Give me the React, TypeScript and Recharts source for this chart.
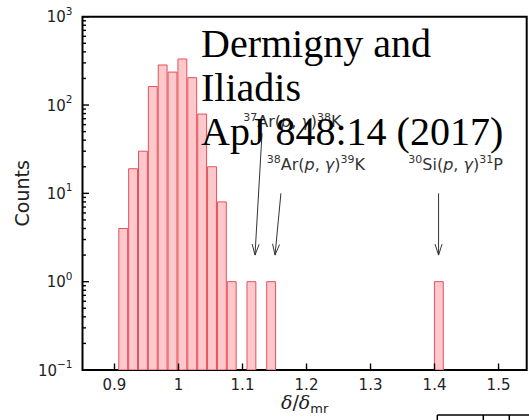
import React from 'react';
import { ComposedChart, Bar, XAxis, YAxis, ReferenceLine, ReferenceDot, ReferenceArea } from 'recharts';

// ---------- data ----------
const binCenters = [0.9144, 0.9298, 0.9452, 0.9606, 0.976, 0.9914, 1.0068, 1.0222, 1.0377, 1.0531, 1.0685, 1.0839, 1.1147, 1.1455, 1.4075];
const counts = [4, 19, 30, 162, 284, 236, 332, 204, 79, 20, 8, 1, 1, 1, 1];
const binWidth = 0.01541;

const xDomain = [0.85, 1.544];
const xTicks = [0.9, 1.0, 1.1, 1.2, 1.3, 1.4, 1.5];
const xTickLabels = ['0.9', '1', '1.1', '1.2', '1.3', '1.4', '1.5'];

const yDomain = [0.1, 1000];
const yMajorTicks = [0.1, 1, 10, 100, 1000];
const yTickExponents = ['\u22121', '0', '1', '2', '3'];

// reaction annotations
const labelTargets = ['37', '38', '30'];
const labelElements = ['Ar', 'Ar', 'Si'];
const labelProducts = ['38', '39', '31'];
const labelProductElements = ['K', 'K', 'P'];
const labelX = [1.1012, 1.1378, 1.359];
const labelY = [56, 18.4, 18.4];
const arrowTailX = [1.1305, 1.16, 1.4063];
const arrowTailY = [48, 10, 10];
const arrowTipX = [1.1195, 1.1508, 1.4063];
const arrowTipY = [2, 2, 2];

const titleLines = ['Dermigny and', 'Iliadis', 'ApJ 848:14 (2017)'];
const xAxisTitle = { sym: '\u03b4', sub: 'mr' };
const yAxisTitle = 'Counts';

// ---------- layout ----------
const W = 529;
const H = 420;
const PLOT_LEFT = 82.5;
const PLOT_TOP = 16.7;
const PLOT_RIGHT = 526.7;
const PLOT_BOTTOM = 370;
const PLOT_W = PLOT_RIGHT - PLOT_LEFT;
const barSize = (PLOT_W * binWidth) / (xDomain[1] - xDomain[0]);

const data = binCenters.map((x, i) => ({ x, count: counts[i] }));

const yAllTicks: number[] = [];
yMajorTicks.forEach((d, i) => {
  if (i < yMajorTicks.length - 1) {
    for (let k = 1; k < 10; k++) yAllTicks.push(d * k);
  } else {
    yAllTicks.push(d);
  }
});

const isMajor = (v: number) => {
  const l = Math.log10(v);
  return Math.abs(l - Math.round(l)) < 1e-6;
};

const SANS = 'DejaVu Sans';
const TXT = '#222';
const AX = '#000';
const TICK_W = 1.4;

const renderLeftTick = (props: any) => {
  const { x, y, payload } = props;
  const v = payload.value;
  const major = isMajor(v);
  const idx = yMajorTicks.findIndex((t) => Math.abs(t - v) / t < 1e-6);
  return (
    <g>
      <path d={`M${x},${y}H${x + (major ? 6.5 : 3.5)}`} stroke={AX} strokeWidth={TICK_W} fill="none" />
      {idx >= 0 && (
        <text x={x - 10} y={y + 5.5} textAnchor="end" fontFamily={SANS} fontSize={15} fill={TXT}>
          10
          <tspan fontSize={10.5} dy={-7.5}>
            {yTickExponents[idx]}
          </tspan>
        </text>
      )}
    </g>
  );
};

const renderRightTick = (props: any) => {
  const { x, y, payload } = props;
  const major = isMajor(payload.value);
  return <path d={`M${x},${y}H${x - (major ? 6.5 : 3.5)}`} stroke={AX} strokeWidth={TICK_W} fill="none" />;
};

const renderBottomTick = (props: any) => {
  const { x, y, payload } = props;
  const idx = xTicks.findIndex((t) => Math.abs(t - payload.value) < 1e-9);
  return (
    <g>
      <path d={`M${x},${y}V${y - 6.5}`} stroke={AX} strokeWidth={TICK_W} fill="none" />
      <text x={x} y={y + 19.5} textAnchor="middle" fontFamily={SANS} fontSize={15} fill={TXT}>
        {xTickLabels[idx]}
      </text>
    </g>
  );
};

const renderTopTick = (props: any) => {
  const { x, y } = props;
  return <path d={`M${x},${y}V${y + 6.5}`} stroke={AX} strokeWidth={TICK_W} fill="none" />;
};

const Arrow = (props: any) => {
  const { x1, y1, x2, y2 } = props;
  const ang = Math.atan2(y2 - y1, x2 - x1);
  const L = 11.5;
  const a = 0.31;
  const p1 = [x2 - L * Math.cos(ang - a), y2 - L * Math.sin(ang - a)];
  const p2 = [x2 - L * Math.cos(ang + a), y2 - L * Math.sin(ang + a)];
  return (
    <g>
      <line x1={x1} y1={y1} x2={x2} y2={y2} stroke="#333" strokeWidth={1} />
      <polyline points={`${p1[0]},${p1[1]} ${x2},${y2} ${p2[0]},${p2[1]}`} fill="none" stroke="#333" strokeWidth={1} />
    </g>
  );
};

const makeLabel = (i: number) => (props: any) => {
  const { cx, cy } = props;
  return (
    <text x={cx} y={cy} fontFamily={SANS} fontSize={16} fill="#333">
      <tspan fontSize={11} dy={-6.5}>
        {labelTargets[i]}
      </tspan>
      <tspan dy={6.5}>{labelElements[i]}(</tspan>
      <tspan fontStyle="italic">p</tspan>
      <tspan>, </tspan>
      <tspan fontStyle="italic">{'\u03b3'}</tspan>
      <tspan>)</tspan>
      <tspan fontSize={11} dy={-6.5}>
        {labelProducts[i]}
      </tspan>
      <tspan dy={6.5}>{labelProductElements[i]}</tspan>
    </text>
  );
};

export default function App() {
  return (
    <div style={{ position: 'absolute', left: 0, top: 0, width: W, height: H, overflow: 'hidden', background: '#fff' }}>
      <ComposedChart
        width={W}
        height={H}
        data={data}
        margin={{ top: PLOT_TOP, right: W - PLOT_RIGHT, bottom: 0, left: 0 }}
        style={{ fontFamily: SANS }}
      >
        <XAxis
          type="number"
          dataKey="x"
          domain={xDomain}
          allowDataOverflow
          ticks={xTicks}
          interval={0}
          height={H - PLOT_BOTTOM}
          tickSize={0}
          tickMargin={0}
          tickLine={false}
          tick={renderBottomTick}
          axisLine={false}
        />
        <XAxis
          xAxisId="top"
          orientation="top"
          type="number"
          dataKey="x"
          domain={xDomain}
          allowDataOverflow
          ticks={xTicks}
          interval={0}
          height={0}
          tickSize={0}
          tickMargin={0}
          tickLine={false}
          tick={renderTopTick}
          axisLine={false}
        />
        <YAxis
          scale="log"
          type="number"
          domain={yDomain}
          allowDataOverflow
          ticks={yAllTicks}
          interval={0}
          width={PLOT_LEFT}
          tickSize={0}
          tickMargin={0}
          tickLine={false}
          tick={renderLeftTick}
          axisLine={false}
        />
        <YAxis
          yAxisId="right"
          orientation="right"
          scale="log"
          type="number"
          domain={yDomain}
          allowDataOverflow
          ticks={yAllTicks}
          interval={0}
          width={0}
          tickSize={0}
          tickMargin={0}
          tickLine={false}
          tick={renderRightTick}
          axisLine={false}
        />
        <Bar
          dataKey="count"
          barSize={barSize}
          fill="#ffc9cb"
          stroke="#e4505b"
          strokeWidth={1}
          isAnimationActive={false}
        />
        <ReferenceArea
          x1={xDomain[0]}
          x2={xDomain[1]}
          y1={yDomain[0]}
          y2={yDomain[1]}
          fill="none"
          stroke={AX}
          strokeWidth={2}
          ifOverflow="visible"
        />
        {labelTargets.map((_, i) => (
          <ReferenceLine
            key={`arrow-${i}`}
            segment={[
              { x: arrowTailX[i], y: arrowTailY[i] },
              { x: arrowTipX[i], y: arrowTipY[i] },
            ]}
            shape={Arrow}
          />
        ))}
        {labelTargets.map((_, i) => (
          <ReferenceDot key={`lbl-${i}`} x={labelX[i]} y={labelY[i]} r={0} shape={makeLabel(i)} />
        ))}
      </ComposedChart>
      <svg
        width={W}
        height={H}
        style={{ position: 'absolute', left: 0, top: 0, pointerEvents: 'none' }}
      >
        <text
          transform={`translate(29, ${(PLOT_TOP + PLOT_BOTTOM) / 2}) rotate(-90)`}
          textAnchor="middle"
          fontFamily={SANS}
          fontSize={19}
          fill={TXT}
        >
          {yAxisTitle}
        </text>
        <text x={(PLOT_LEFT + PLOT_RIGHT) / 2} y={409} textAnchor="middle" fontSize={19} fill={TXT}>
          <tspan fontFamily="DejaVu Serif" fontStyle="italic">
            {xAxisTitle.sym}
          </tspan>
          <tspan fontFamily={SANS}>/</tspan>
          <tspan fontFamily="DejaVu Serif" fontStyle="italic">
            {xAxisTitle.sym}
          </tspan>
          <tspan fontFamily={SANS} fontSize={13} dy={4}>
            {xAxisTitle.sub}
          </tspan>
        </text>
        <text fontFamily="Liberation Serif" fontSize={40} fill="#000">
          {titleLines.map((t, i) => (
            <tspan key={i} x={201} y={56.7 + i * 44.2}>
              {t}
            </tspan>
          ))}
        </text>
        <g stroke="#000" strokeWidth={1.5} fill="none">
          <line x1={437.3} y1={415} x2={W} y2={415} />
          <line x1={437.3} y1={415} x2={437.3} y2={H} />
          <line x1={483.3} y1={415} x2={483.3} y2={H} />
          <line x1={509.3} y1={415} x2={509.3} y2={H} />
        </g>
      </svg>
    </div>
  );
}
